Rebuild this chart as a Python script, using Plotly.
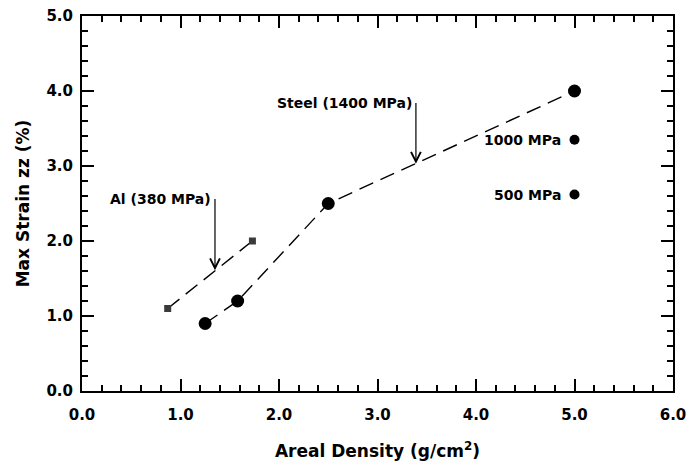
import plotly.graph_objects as go

# Areal density (g/cm^2) vs. maximum strain zz (%)
al_density = [0.87, 1.73]
al_strain = [1.10, 2.00]

steel_density = [1.25, 1.58, 2.50, 5.00]
steel_strain = [0.90, 1.20, 2.50, 4.00]

# steel at other strengths, 5.0 g/cm^2
alt_density = [5.00, 5.00]
alt_strain = [3.35, 2.62]
alt_labels = ["1000 MPa", "500 MPa"]

x_ticks = [0, 1, 2, 3, 4, 5, 6]
y_ticks = [0, 1, 2, 3, 4, 5]
x_range = [0, 6]
y_range = [0, 5]

FONT = "DejaVu Sans"
DASH = "15px,8px"

fig = go.Figure()

fig.add_trace(go.Scatter(
    x=al_density, y=al_strain, mode="lines+markers",
    line=dict(color="black", width=1.4, dash=DASH),
    marker=dict(symbol="square", size=7, color="#3a3a3a"),
    showlegend=False, hoverinfo="skip",
))
fig.add_trace(go.Scatter(
    x=steel_density, y=steel_strain, mode="lines+markers",
    line=dict(color="black", width=1.4, dash=DASH),
    marker=dict(symbol="circle", size=13, color="black"),
    showlegend=False, hoverinfo="skip",
))
fig.add_trace(go.Scatter(
    x=alt_density, y=alt_strain, mode="markers",
    marker=dict(symbol="circle", size=10, color="black"),
    showlegend=False, hoverinfo="skip",
))
# empty trace so the top/right frame axes get drawn
fig.add_trace(go.Scatter(x=[None], y=[None], xaxis="x2", yaxis="y2",
                         showlegend=False, hoverinfo="skip"))

label_font = dict(family=FONT, size=14, color="black", weight="bold")

# strength labels beside the 5.0 g/cm^2 points
for xv, yv, txt in zip(alt_density, alt_strain, alt_labels):
    fig.add_annotation(x=xv, y=yv, text=txt, showarrow=False,
                       xanchor="right", yanchor="middle", xshift=-12,
                       font=label_font)

# material call-outs with arrows onto the curves
callouts = [
    ("Al (380 MPa)", 1.35, 2.56, 1.61),
    ("Steel (1400 MPa)", 3.39, 3.84, 3.03),
]
for txt, xa, y_from, y_to in callouts:
    fig.add_annotation(x=xa, y=y_to, ax=xa, ay=y_from, axref="x", ayref="y",
                       text=txt, xanchor="right", yanchor="middle",
                       borderpad=3, font=label_font,
                       showarrow=True, arrowhead=5, arrowsize=1.6,
                       arrowwidth=1.2, arrowcolor="black")

tick_style = dict(
    ticks="inside", ticklen=12, tickwidth=1.6, tickcolor="black",
    minor=dict(ticks="inside", ticklen=6, tickwidth=1.6, tickcolor="black"),
    showgrid=False, zeroline=False, automargin=False,
)
label_font_ticks = dict(family=FONT, size=15, color="black", weight="bold")

fig.update_layout(
    width=688, height=468,
    margin=dict(l=82, r=15, t=16, b=77),
    plot_bgcolor="white", paper_bgcolor="white",
    xaxis=dict(
        range=x_range, tickvals=x_ticks, tickformat=".1f",
        showline=True, linewidth=2, linecolor="black",
        ticklabelstandoff=9, tickfont=label_font_ticks,
        title=dict(text="Areal Density (g/cm<sup>2</sup>)", standoff=22,
                   font=dict(family=FONT, size=17, color="black", weight="bold")),
        **tick_style,
    ),
    yaxis=dict(
        range=y_range, tickvals=y_ticks, tickformat=".1f",
        showline=True, linewidth=2, linecolor="black",
        ticklabelstandoff=4, tickfont=label_font_ticks,
        title=dict(text="Max Strain zz (%)", standoff=12,
                   font=dict(family=FONT, size=17, color="black", weight="bold")),
        **tick_style,
    ),
    xaxis2=dict(
        range=x_range, tickvals=x_ticks, overlaying="x", side="top",
        showline=True, linewidth=2, linecolor="black",
        showticklabels=False, **tick_style,
    ),
    yaxis2=dict(
        range=y_range, tickvals=y_ticks, overlaying="y", side="right",
        showline=True, linewidth=2, linecolor="black",
        showticklabels=False, **tick_style,
    ),
)
for ax in ("xaxis", "yaxis", "xaxis2", "yaxis2"):
    fig.layout[ax].minor.dtick = 0.2

fig.write_html("out.html")
